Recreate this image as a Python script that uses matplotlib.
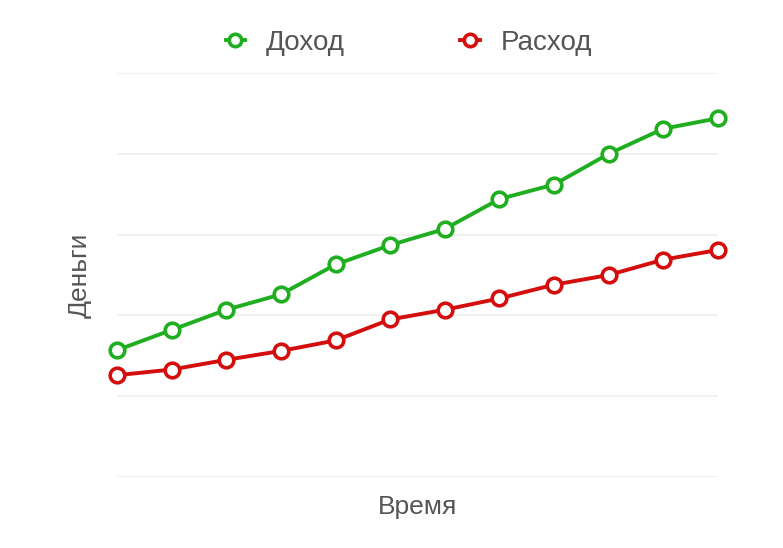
import matplotlib
matplotlib.use("Agg")
import matplotlib.pyplot as plt

plt.rcParams['font.family'] = ['Liberation Sans', 'DejaVu Sans']

# Данные (оценены по картинке)
periods = list(range(12))
income = [1.57, 1.82, 2.07, 2.26, 2.63, 2.87, 3.07, 3.44, 3.62, 4.00, 4.31, 4.44]
expense = [1.26, 1.33, 1.45, 1.56, 1.69, 1.95, 2.07, 2.21, 2.38, 2.50, 2.69, 2.81]
labels = ["Доход", "Расход"]
grid_levels = [0, 1, 2, 3, 4, 5]

green = "#1fae1f"
red = "#d40d0d"
text_col = "#555555"

fig = plt.figure(figsize=(7.83, 5.48), dpi=100)
ax = fig.add_axes([117/783, 71/548, 601/783, 404/548])

for lvl in grid_levels:
    ax.axhline(lvl, color="#efefef", lw=1.2, zorder=0)

ax.plot(periods, income, color=green, lw=2.8, marker="o", ms=10.5,
        mfc="white", mec=green, mew=2.6, clip_on=False, label=labels[0], zorder=3)
ax.plot(periods, expense, color=red, lw=2.8, marker="o", ms=10.5,
        mfc="white", mec=red, mew=2.6, clip_on=False, label=labels[1], zorder=3)

ax.set_xlim(0, 11)
ax.set_ylim(0, 5)
ax.set_xticks([])
ax.set_yticks([])
for s in ax.spines.values():
    s.set_visible(False)

ax.set_xlabel("Время", fontsize=19, color=text_col, labelpad=13)
ax.set_ylabel("Деньги", fontsize=19, color=text_col, labelpad=18)

leg = fig.legend(loc="center", bbox_to_anchor=(0.522, 0.922), ncol=2, frameon=False,
                 fontsize=20, handlelength=0.7, handletextpad=0.75, columnspacing=4.15,
                 markerscale=0.85)
for t in leg.get_texts():
    t.set_color(text_col)

fig.savefig("out.png", dpi=100, facecolor="white")
